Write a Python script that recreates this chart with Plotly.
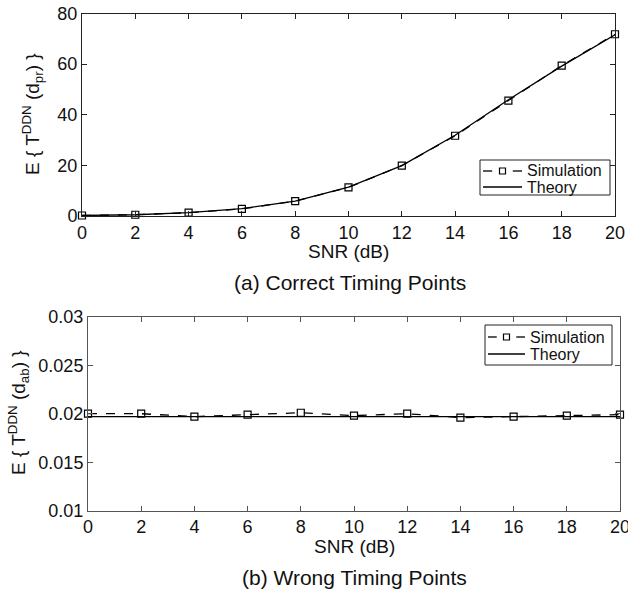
import plotly.graph_objects as go

snr = [0, 2, 4, 6, 8, 10, 12, 14, 16, 18, 20]
sim_a = [0.2, 0.5, 1.3, 2.8, 5.9, 11.3, 19.9, 31.7, 45.6, 59.4, 71.8]
theory_a = [0.2, 0.5, 1.3, 2.9, 5.9, 11.4, 19.9, 31.9, 45.9, 59.2, 71.6]
sim_b = [0.0200, 0.0200, 0.0197, 0.0199, 0.0201, 0.0198, 0.0200, 0.0196, 0.0197, 0.0198, 0.0199]
theory_b = [0.0197] * 11
legend_names = ["Simulation", "Theory"]

FONT = "Liberation Sans, Arial, sans-serif"
W, H = 628, 592
TXT = "#111"

fig = go.Figure()
sim_style = dict(mode="lines+markers", line=dict(color="black", width=1.3, dash="dash"), cliponaxis=False,
                 marker=dict(symbol="square-open", size=7, color="black", line=dict(width=1.2)))
th_style = dict(mode="lines", line=dict(color="black", width=1.3), cliponaxis=False)

fig.add_trace(go.Scatter(x=snr, y=theory_a, name=legend_names[1], xaxis="x", yaxis="y", **th_style))
fig.add_trace(go.Scatter(x=snr, y=sim_a, name=legend_names[0], xaxis="x", yaxis="y", **sim_style))
fig.add_trace(go.Scatter(x=snr, y=theory_b, name=legend_names[1], xaxis="x2", yaxis="y2", **th_style))
fig.add_trace(go.Scatter(x=snr, y=sim_b, name=legend_names[0], xaxis="x2", yaxis="y2", **sim_style))

axis_common = dict(showgrid=False, zeroline=False, showline=True, linewidth=1,
                   mirror="ticks", ticks="inside", ticklen=5, automargin=False,
                   ticklabeloverflow="allow",
                   tickfont=dict(family=FONT, size=18, color=TXT))

fig.update_layout(
    width=W, height=H, margin=dict(l=0, r=0, t=0, b=0, pad=0),
    paper_bgcolor="white", plot_bgcolor="white", showlegend=False,
    font=dict(family=FONT, color=TXT),
    xaxis=dict(domain=[82 / W, 615 / W], range=[0, 20], tickvals=snr, anchor="y",
               linecolor="#222", tickcolor="#222", **axis_common),
    yaxis=dict(domain=[(H - 216) / H, (H - 13.5) / H], range=[0, 80], tickvals=[0, 20, 40, 60, 80], anchor="x",
               linecolor="#222", tickcolor="#222", **axis_common),
    xaxis2=dict(domain=[88 / W, 620 / W], range=[0, 20], tickvals=snr, anchor="y2",
                linecolor="#555", tickcolor="#555", **axis_common),
    yaxis2=dict(domain=[(H - 510.7) / H, (H - 316.7) / H], range=[0.01, 0.03],
                tickvals=[0.01, 0.015, 0.02, 0.025, 0.03], ticktext=["0.01", "0.015", "0.02", "0.025", "0.03"],
                anchor="x2", linecolor="#555", tickcolor="#555", **axis_common),
)

def px_x(v):
    return v / W

def px_y(v):
    return (H - v) / H

ann = [
    dict(text="SNR (dB)", x=(82 + 615) / 2, y=251, size=19, angle=0),
    dict(text="(a) Correct Timing Points", x=(82 + 615) / 2 + 1, y=282, size=21, angle=0),
    dict(text="SNR (dB)", x=(88 + 620) / 2, y=546, size=19, angle=0),
    dict(text="(b) Wrong Timing Points", x=(88 + 620) / 2, y=577, size=21, angle=0),
    dict(text="E { T<sup>DDN</sup> (d<sub>pr</sub>) }", x=33, y=114, size=19, angle=-90),
    dict(text="E { T<sup>DDN</sup> (d<sub>ab</sub>) }", x=18, y=413, size=19, angle=-90),
]
for a in ann:
    fig.add_annotation(text=a["text"], x=px_x(a["x"]), y=px_y(a["y"]), xref="paper", yref="paper",
                       xanchor="center", yanchor="middle", showarrow=False, textangle=a["angle"],
                       font=dict(family=FONT, size=a["size"], color=TXT))

# manual legends (box, symbols, labels) in pixel layout
legends = [
    dict(box=(480, 160, 610, 195), rows=(171, 187), sym=(483, 522), text_x=525),
    dict(box=(485, 325, 612, 365), rows=(337, 354), sym=(488, 525), text_x=528),
]
for lg in legends:
    x0, y0, x1, y1 = lg["box"]
    fig.add_shape(type="rect", xref="paper", yref="paper", x0=px_x(x0), x1=px_x(x1), y0=px_y(y0), y1=px_y(y1),
                  line=dict(color="#222", width=1), fillcolor="white", layer="above")
    sa, sb = lg["sym"]
    r1, r2 = lg["rows"]
    seg = (sb - sa) / 5.5
    fig.add_shape(type="line", xref="paper", yref="paper", x0=px_x(sa), x1=px_x(sa + seg * 1.3),
                  y0=px_y(r1), y1=px_y(r1), line=dict(color="black", width=1.3), layer="above")
    fig.add_shape(type="line", xref="paper", yref="paper", x0=px_x(sb - seg * 1.3), x1=px_x(sb),
                  y0=px_y(r1), y1=px_y(r1), line=dict(color="black", width=1.3), layer="above")
    cx = (sa + sb) / 2
    fig.add_shape(type="rect", xref="paper", yref="paper", x0=px_x(cx - 3), x1=px_x(cx + 3),
                  y0=px_y(r1 - 3), y1=px_y(r1 + 3), line=dict(color="black", width=1.2), layer="above")
    fig.add_shape(type="line", xref="paper", yref="paper", x0=px_x(sa), x1=px_x(sb),
                  y0=px_y(r2), y1=px_y(r2), line=dict(color="black", width=1.3), layer="above")
    for name, ry in zip(legend_names, (r1, r2)):
        fig.add_annotation(text=name, x=px_x(lg["text_x"]), y=px_y(ry), xref="paper", yref="paper",
                           xanchor="left", yanchor="middle", showarrow=False,
                           font=dict(family=FONT, size=16, color=TXT))

fig.write_html("out.html")
